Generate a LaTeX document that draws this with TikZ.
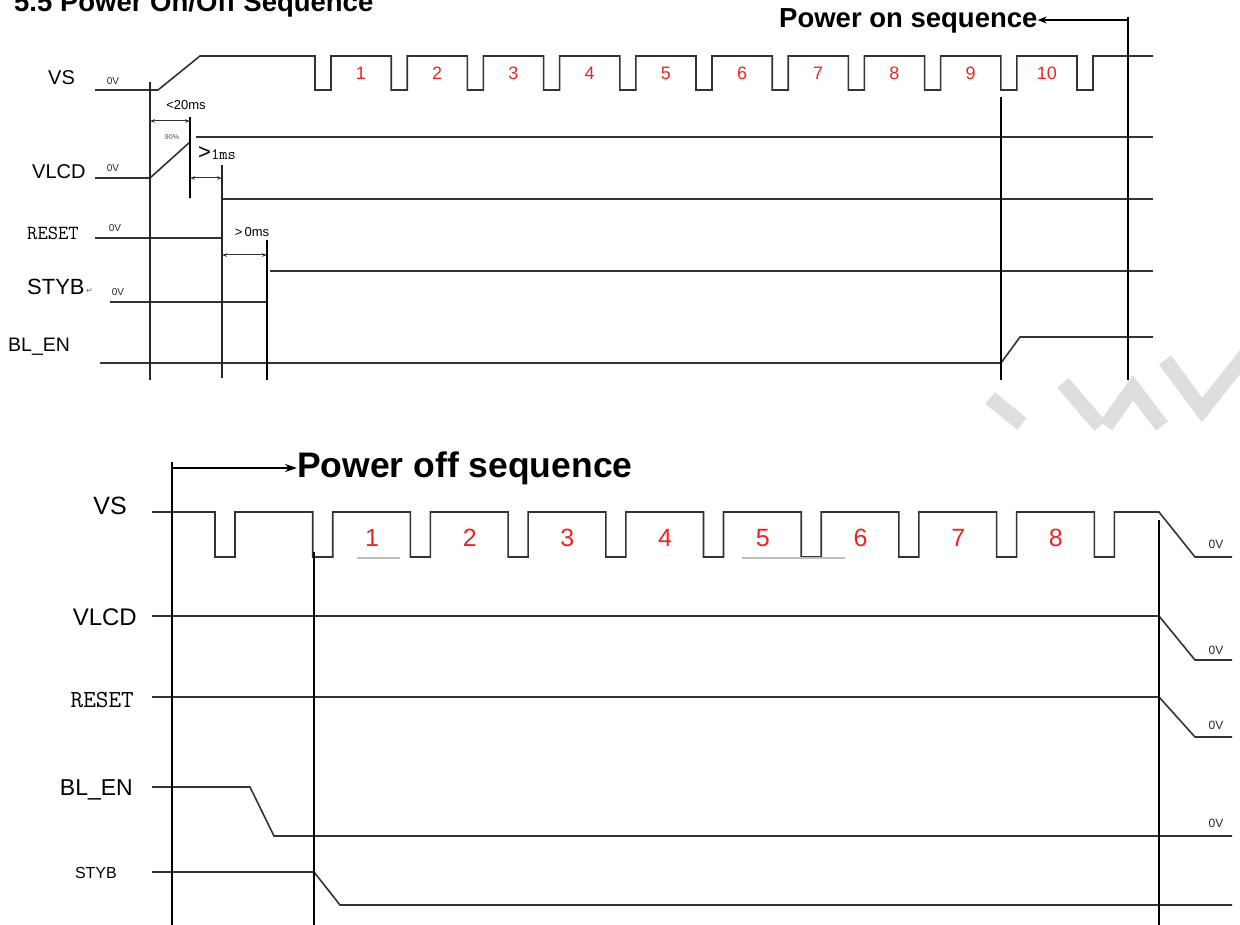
\documentclass[tikz,border=0pt]{standalone}
\usepackage{fontspec}
\setmainfont{Liberation Sans}
\newfontfamily\symf{DejaVu Sans}
\usetikzlibrary{arrows.meta}
\newcommand\setfs[1]{\fontsize{#1}{#1}\selectfont}
\definecolor{dred}{RGB}{240,35,35}
\definecolor{wm}{RGB}{222,222,222}
\begin{document}
\begin{tikzpicture}[x=1pt,y=-1pt,
  sig/.style={line width=1.6pt, draw=black!80, line join=miter},
  vmark/.style={line width=2.3pt, draw=black, dash pattern=on 2.6pt off 0.4pt},
  vthin/.style={line width=1.5pt, draw=black!85},
  dim/.style={line width=1pt, draw=black!80, {Stealth[length=5pt,width=3.5pt]}-{Stealth[length=5pt,width=3.5pt]}},
  lab/.style={inner sep=0pt, text=black},
  zv/.style={inner sep=0pt, font=\setfs{10}, text=black!85},
  zvb/.style={inner sep=0pt, font=\setfs{12}, text=black!85},
  dig/.style={inner sep=0pt, text=dred},
  wmk/.style={line width=15pt, draw=wm}
]
\useasboundingbox (0,0) rectangle (1240,925);

% watermark
\draw[wmk] (990,398) -- (1022,424);
\draw[wmk] (1063,383) -- (1100,426);
\draw[wmk] (1106,426) -- (1133,388) -- (1162,426);
\draw[wmk] (1165,360) -- (1202,410) -- (1248,352);

% title (cut at top)
\node[lab, anchor=base west, font=\bfseries\setfs{27.5}] (title) at (14,12) {5.5 Power On/Off Sequence};

% ---------------- Power on ----------------
\node[lab, anchor=base west, font=\bfseries\setfs{27.5}] (pon) at (779,28) {Power on sequence};
\coordinate (ponR) at (1128,20);
\draw[line width=1.4pt, -{Stealth[length=9pt,width=7pt]}] (ponR) -- (pon.east |- ponR);

% labels
\node[lab, anchor=west, font=\setfs{20}] (vsT) at (48,78) {VS};
\node[lab, anchor=west, font=\setfs{20}] (vlcdT) at (32,172) {VLCD};
\node[lab, anchor=west, font=\ttfamily\setfs{20}] (rstT) at (27,233) {RESET};
\node[lab, anchor=west, font=\setfs{22}] (stybT) at (27,287) {STYB};
\node[lab, anchor=west, font=\symf\setfs{8}, text=black!60] (retT) at (86,291) {↵};
\node[lab, anchor=west, font=\setfs{19.5}] (blT) at (8,347) {BL\_EN};

\node[zv] (z1) at (113,81) {0V};
\node[zv] (z2) at (113,168) {0V};
\node[zv] (z3) at (115,228) {0V};
\node[zv] (z4) at (118,292) {0V};

% VS
\draw[sig] (95,90) -- (158,90) -- (200,56)
  foreach \k in {0,...,10} {
    -- ({315+76.2*\k},56) -- ({315+76.2*\k},90) -- ({331+76.2*\k},90) -- ({331+76.2*\k},56)
  } -- (1153,56);
\foreach \k in {1,...,10} {
  \node[dig, font=\setfs{18}] (dT\k) at ({361+76.2*(\k-1)},73) {\k};
}
% VLCD
\draw[sig] (95,178) -- (150,178) -- (190,142);
\draw[sig] (196,137) -- (1153,137);
% RESET
\draw[sig] (95,238) -- (222,238);
\draw[sig] (222,199) -- (1153,199);
% STYB
\draw[sig] (110,302) -- (267,302);
\draw[sig] (270,271) -- (1153,271);
% BL_EN
\draw[sig] (100,363) -- (1001,363) -- (1020,337) -- (1153,337);

% verticals
\draw[vthin] (150,82) -- (150,380);
\draw[vmark] (190,117) -- (190,198);
\draw[vthin] (222,165) -- (222,378);
\draw[vmark] (267,240) -- (267,380);
\draw[vmark] (1001,97) -- (1001,380);
\draw[vmark] (1128,17) -- (1128,380);

% timing annotations
\draw[dim] (150,121) -- (190,121);
\draw[dim] (190,178) -- (222,178);
\draw[dim] (222,255) -- (267,255);
\node[lab, font=\setfs{13}] (t20) at (186,105) {<20ms};
\node[lab, font=\setfs{7}, text=black!70] (p90) at (172,137) {90\%};
\node[lab, anchor=west, font=\ttfamily\setfs{16}] (t1) at (198,153) {{\rmfamily\setfs{22}>}1ms};
\node[lab, font=\setfs{13}] (t0) at (252,232) {>\,0ms};

% ---------------- Power off ----------------
\node[lab, anchor=base west, font=\bfseries\setfs{35.5}] (poff) at (297,477) {Power off sequence};
\coordinate (poffL) at (172,468);
\draw[line width=1.4pt, -{Stealth[length=12pt,width=8pt]}] (poffL) -- (poff.west |- poffL);

\node[lab, anchor=east, font=\setfs{25}] (vsB) at (127,506) {VS};
\node[lab, anchor=east, font=\setfs{24}] (vlcdB) at (137,617) {VLCD};
\node[lab, anchor=east, font=\ttfamily\setfs{24.5}] (rstB) at (134,700) {RESET};
\node[lab, anchor=east, font=\setfs{23}] (blB) at (133,790) {BL\_EN};
\node[lab, anchor=east, font=\setfs{16}] (stybB) at (117,873) {STYB};

% VS bottom
\draw[sig] (152,512)
  foreach \k in {0,...,9} {
    -- ({215+97.7*\k},512) -- ({215+97.7*\k},557) -- ({235+97.7*\k},557) -- ({235+97.7*\k},512)
  } -- (1159,512) -- (1195,557) -- (1232,557);
\foreach \k in {1,...,8} {
  \node[dig, font=\setfs{25}] (dB\k) at ({372+97.7*(\k-1)},538) {\k};
}
\draw[line width=1.3pt, draw=black!25] (357,558) -- (400,558);
\draw[line width=1.3pt, draw=black!25] (742,558) -- (845,558);

% other bottom signals
\draw[sig] (152,616) -- (1159,616) -- (1195,660) -- (1232,660);
\draw[sig] (152,697) -- (1159,697) -- (1195,737) -- (1232,737);
\draw[sig] (152,787) -- (250,787) -- (274,836) -- (1232,836);
\draw[sig] (152,872) -- (314,872) -- (340,905) -- (1232,905);

\node[zvb] (zb1) at (1216,544) {0V};
\node[zvb] (zb2) at (1216,650) {0V};
\node[zvb] (zb3) at (1216,725) {0V};
\node[zvb] (zb4) at (1216,823) {0V};

% bottom verticals
\draw[vmark] (172,462) -- (172,925);
\draw[vmark] (314,552) -- (314,925);
\draw[vmark] (1159,520) -- (1159,925);
\end{tikzpicture}
\end{document}
